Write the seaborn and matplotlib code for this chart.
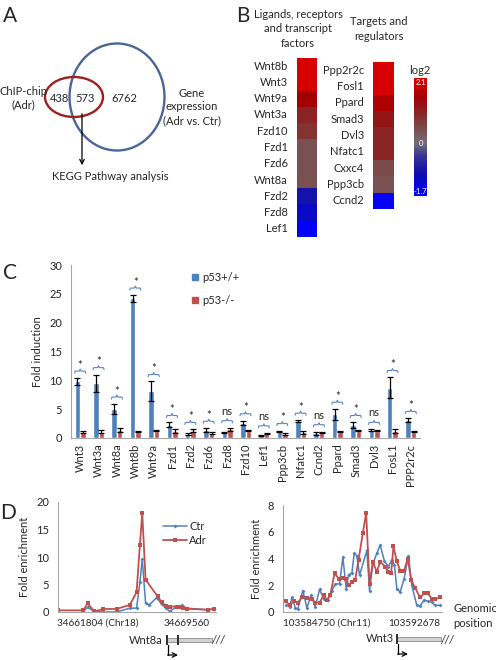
import numpy as np
import pandas as pd
import matplotlib
matplotlib.use('Agg')
import matplotlib.pyplot as plt
import seaborn as sns
from matplotlib.patches import Ellipse, Rectangle
from matplotlib.colors import LinearSegmentedColormap, Normalize
from matplotlib.cm import ScalarMappable
from matplotlib.lines import Line2D

# ─────────────────────────────────────────────────────────────────────────────
# DATA
# ─────────────────────────────────────────────────────────────────────────────
# A: Venn counts
VENN_CHIP_ONLY = 438
VENN_OVERLAP = 573
VENN_EXPR_ONLY = 6762

# B: heatmap, log2 fold change
HM_LEFT_GENES = ['Wnt8b', 'Wnt3', 'Wnt9a', 'Wnt3a', 'Fzd10', 'Fzd1', 'Fzd6',
                 'Wnt8a', 'Fzd2', 'Fzd8', 'Lef1']
HM_LEFT_LOG2 = [2.0, 2.0, 1.5, 1.0, 0.8, 0.4, 0.4, 0.4, -0.9, -1.2, -1.7]
HM_RIGHT_GENES = ['Ppp2r2c', 'Fosl1', 'Ppard', 'Smad3', 'Dvl3', 'Nfatc1',
                  'Cxxc4', 'Ppp3cb', 'Ccnd2']
HM_RIGHT_LOG2 = [2.0, 2.0, 1.6, 1.2, 1.0, 1.0, 0.5, 0.4, -1.6]
HM_MIN, HM_MAX = -1.7, 2.1

# C: qPCR fold induction
C_GENES = ['Wnt3', 'Wnt3a', 'Wnt8a', 'Wnt8b', 'Wnt9a', 'Fzd1', 'Fzd2', 'Fzd6',
           'Fzd8', 'Fzd10', 'Lef1', 'Ppp3cb', 'Nfatc1', 'Ccnd2', 'Ppard',
           'Smad3', 'Dvl3', 'FosL1', 'PPP2r2c']
C_WT = [9.8, 9.5, 5.0, 24.2, 8.1, 2.3, 0.7, 1.4, 1.0, 2.6, 0.5, 1.2, 2.9,
        0.8, 4.1, 2.2, 1.4, 8.7, 3.1]
C_WT_ERR = [0.6, 1.5, 0.9, 0.6, 1.7, 0.4, 0.1, 0.3, 0.1, 0.4, 0.1, 0.1, 0.2,
            0.2, 0.9, 0.5, 0.1, 1.8, 0.3]
C_KO = [1.1, 1.1, 1.4, 1.1, 1.3, 1.2, 1.3, 0.9, 1.5, 1.3, 0.8, 0.7, 1.0,
        1.0, 1.1, 1.3, 1.3, 1.2, 1.1]
C_KO_ERR = [0.2, 0.3, 0.3, 0.1, 0.1, 0.3, 0.2, 0.2, 0.3, 0.1, 0.1, 0.1, 0.3,
            0.1, 0.1, 0.1, 0.1, 0.3, 0.1]
C_SIG = ['*', '*', '*', '*', '*', '*', '*', '*', 'ns', '*', 'ns', '*', '*',
         'ns', '*', '*', 'ns', '*', '*']

# D left: Wnt8a locus (offset from 34661804, bp)
D1_START, D1_END = 34661804, 34669560
D1_ADR_POS = [0, 1243, 1458, 1790, 2237, 2900, 3563, 3894, 4060, 4176, 4342,
              4938, 5137, 5352, 5551, 5883, 6048, 6214, 6380, 7457, 7756]
D1_ADR = [0.3, 0.3, 1.6, 0.1, 0.55, 0.55, 1.3, 3.6, 12.2, 18.0, 5.9, 2.85,
          1.8, 1.15, 1.0, 1.0, 0.85, 0.7, 0.6, 0.4, 0.6]
D1_CTR_POS = [1243, 1458, 1790, 2237, 2900, 3563, 3894, 4060, 4176, 4342, 4524,
              4889, 5137, 5352, 5551, 5883, 6164, 6380, 7457, 7756]
D1_CTR = [0.1, 0.85, 0.1, 0.0, 0.0, 0.7, 0.7, 5.4, 9.6, 1.6, 1.3, 2.6, 1.45,
          0.7, 0.1, 1.0, 1.2, 0.7, 0.4, 0.55]

# D right: Wnt3 locus (offset from 103584750, bp)
D2_START, D2_END = 103584750, 103592678
D2_ADR_POS = [0, 172, 378, 583, 807, 1064, 1321, 1493, 1716, 1922, 2094, 2265,
              2488, 2694, 2917, 3089, 3209, 3381, 3552, 3724, 3947, 4118, 4290,
              4462, 4668, 4839, 5097, 5268, 5405, 5525, 5697, 5869, 6075, 6263,
              6435, 6641, 6898, 7121, 7293, 7499, 7671, 7928]
D2_ADR = [0.8, 0.5, 0.8, 0.7, 1.1, 1.05, 1.0, 0.7, 0.7, 1.25, 0.9, 1.25, 2.9,
          2.5, 2.55, 2.5, 2.0, 2.25, 2.4, 3.9, 5.9, 7.4, 2.1, 3.75, 3.0, 3.75,
          3.4, 3.0, 2.9, 4.9, 3.8, 3.1, 3.1, 4.0, 2.4, 1.8, 1.1, 1.4, 1.4,
          1.0, 0.95, 1.1]
D2_CTR_POS = [0, 172, 292, 463, 583, 858, 1064, 1270, 1493, 1716, 1922, 2128,
              2351, 2523, 2746, 2917, 3089, 3209, 3381, 3501, 3638, 3775, 4153,
              4290, 4462, 4668, 4839, 5062, 5268, 5440, 5577, 5697, 5869, 6075,
              6298, 6470, 6727, 6898, 7104, 7293, 7499, 7671, 7928]
D2_CTR = [0.5, 0.4, 1.1, 0.3, 0.2, 1.6, 0.3, 1.25, 0.4, 1.7, 1.0, 0.9, 1.6,
          2.1, 2.1, 4.1, 1.75, 2.8, 2.9, 4.4, 4.2, 2.75, 4.6, 1.6, 3.6, 4.4,
          5.0, 3.8, 3.4, 3.9, 3.5, 1.75, 1.5, 2.5, 4.2, 2.0, 0.5, 0.45, 0.9,
          0.8, 0.75, 0.5, 0.5]

# ─────────────────────────────────────────────────────────────────────────────
# STYLE
# ─────────────────────────────────────────────────────────────────────────────
sns.set_style('white')
plt.rcParams['font.family'] = ['Lato', 'DejaVu Sans']
plt.rcParams['font.size'] = 8

BLUE = '#4F81BD'
RED = '#C0504D'
AXIS_GRAY = '#A6A6A6'
W, H = 496, 660

fig = plt.figure(figsize=(W / 100, H / 100), dpi=100)

# overlay in pixel coordinates for free-standing text and shapes
ov = fig.add_axes([0, 0, 1, 1], zorder=-1)
ov.set_xlim(0, W)
ov.set_ylim(H, 0)
ov.axis('off')


def px_axes(x0, y0, x1, y1):
    """Axes from pixel box (top-left origin)."""
    return fig.add_axes([x0 / W, 1 - y1 / H, (x1 - x0) / W, (y1 - y0) / H])


# panel letters
for letter, (lx, ly) in {'A': (10, 16), 'B': (243, 16), 'C': (10, 273), 'D': (8, 513)}.items():
    ov.text(lx, ly, letter, fontsize=15, ha='center', va='center')

# ─────────────────────────────────────────────────────────────────────────────
# A: VENN
# ─────────────────────────────────────────────────────────────────────────────
ov.add_patch(Ellipse((117, 97), 95, 107, fill=False, ec='#4A6698', lw=1.7))
ov.add_patch(Ellipse((74, 97), 58, 40, fill=False, ec='#A01E1E', lw=1.7))
ov.text(59, 99, str(VENN_CHIP_ONLY), ha='center', va='center', fontsize=8)
ov.text(85, 99, str(VENN_OVERLAP), ha='center', va='center', fontsize=8)
ov.text(124, 99, str(VENN_EXPR_ONLY), ha='center', va='center', fontsize=8)
ov.text(23, 98, 'ChIP-chip\n(Adr)', ha='center', va='center', fontsize=8,
        linespacing=1.3)
ov.text(192, 107, 'Gene\nexpression\n(Adr vs. Ctr)', ha='center', va='center',
        fontsize=8, linespacing=1.3)
ov.annotate('', xy=(82, 168), xytext=(82, 111),
            arrowprops=dict(arrowstyle='->', color='black', lw=0.9))
ov.text(110, 176, 'KEGG Pathway analysis', ha='center', va='center', fontsize=8)

# ─────────────────────────────────────────────────────────────────────────────
# B: HEATMAPS
# ─────────────────────────────────────────────────────────────────────────────
hm_cmap = LinearSegmentedColormap.from_list('hm', [
    (0.0, (0.0, 0.0, 1.0)),
    (0.184, (0.05, 0.05, 0.68)),
    (0.33, (0.2, 0.2, 0.58)),
    (0.447, (0.45, 0.43, 0.47)),
    (0.579, (0.48, 0.29, 0.29)),
    (0.711, (0.54, 0.14, 0.14)),
    (0.842, (0.64, 0.0, 0.0)),
    (1.0, (0.88, 0.0, 0.0)),
])

ov.text(298, 29, 'Ligands, receptors\nand transcript\nfactors', ha='center',
        va='center', fontsize=8, linespacing=1.35)
ov.text(379, 29, 'Targets and\nregulators', ha='center', va='center',
        fontsize=8, linespacing=1.35)

for genes, vals, box in [(HM_LEFT_GENES, HM_LEFT_LOG2, (297, 58, 317, 237)),
                         (HM_RIGHT_GENES, HM_RIGHT_LOG2, (373, 62, 394, 209))]:
    hax = px_axes(*box)
    df = pd.DataFrame({'log2': vals}, index=genes)
    sns.heatmap(df, ax=hax, cmap=hm_cmap, vmin=HM_MIN, vmax=HM_MAX, cbar=False,
                xticklabels=False, yticklabels=genes)
    hax.tick_params(left=False, labelsize=8, pad=3)
    hax.set_yticklabels(genes, rotation=0)
    hax.set_ylabel('')

cax = px_axes(414, 78, 427, 196)
cb = fig.colorbar(ScalarMappable(norm=Normalize(HM_MIN, HM_MAX), cmap=hm_cmap), cax=cax)
cb.outline.set_visible(False)
cax.set_yticks([])
cax.text(0.5, HM_MAX - 0.15, '2.1', color='white', ha='center', va='center', fontsize=5.5,
         transform=cax.get_yaxis_transform())
cax.text(0.5, 0, '0', color='white', ha='center', va='center', fontsize=5.5,
         transform=cax.get_yaxis_transform())
cax.text(0.5, HM_MIN + 0.15, '-1.7', color='white', ha='center', va='center', fontsize=5.5,
         transform=cax.get_yaxis_transform())
ov.text(420, 71, 'log2', ha='center', va='center', fontsize=8)

# ─────────────────────────────────────────────────────────────────────────────
# C: BAR CHART
# ─────────────────────────────────────────────────────────────────────────────
axc = px_axes(71, 265, 420, 438)
df_c = pd.DataFrame({
    'gene': C_GENES * 2,
    'fold': C_WT + C_KO,
    'err': C_WT_ERR + C_KO_ERR,
    'genotype': ['p53+/+'] * len(C_GENES) + ['p53-/-'] * len(C_GENES),
})
sns.barplot(data=df_c, x='gene', y='fold', hue='genotype', palette=[BLUE, RED],
            width=0.6, errorbar=None, ax=axc, legend=False, saturation=1)

for cont, errs in zip(axc.containers, [C_WT_ERR, C_KO_ERR]):
    xs = [b.get_x() + b.get_width() / 2 for b in cont]
    ys = [b.get_height() for b in cont]
    axc.errorbar(xs, ys, yerr=errs, fmt='none', ecolor='black', elinewidth=0.9,
                 capsize=2.2, capthick=0.9)

# significance braces
for i, sig in enumerate(C_SIG):
    top = max(C_WT[i] + C_WT_ERR[i], C_KO[i] + C_KO_ERR[i]) + 1.2
    bx = [i - 0.3, i - 0.27, i - 0.05, i, i + 0.05, i + 0.27, i + 0.3]
    by = [top - 0.35, top, top, top + 0.35, top, top, top - 0.35]
    axc.plot(bx, by, color='#5B82C4', lw=0.8)
    axc.text(i, top + (1.05 if sig == '*' else 0.7), sig, ha='center',
             va='center' if sig == '*' else 'bottom', fontsize=8)

axc.set_xlim(-0.5, len(C_GENES) - 0.5)
axc.set_ylim(0, 30)
axc.set_yticks(range(0, 31, 5))
axc.set_xlabel('')
axc.set_ylabel('Fold induction', fontsize=8)
axc.set_xticks(range(len(C_GENES)))
axc.set_xticklabels(C_GENES, rotation=90, fontsize=8)
axc.set_xticks(np.arange(-0.5, len(C_GENES)), minor=True)
axc.tick_params(axis='x', which='major', length=0, pad=4)
axc.tick_params(axis='x', which='minor', length=4, color=AXIS_GRAY, direction='out')
axc.tick_params(axis='y', length=3, color=AXIS_GRAY, labelsize=8, direction='out')
for s in ['top', 'right']:
    axc.spines[s].set_visible(False)
for s in ['left', 'bottom']:
    axc.spines[s].set_color(AXIS_GRAY)
    axc.spines[s].set_linewidth(0.8)

axc.legend(handles=[Line2D([], [], marker='s', ls='', color=BLUE, markersize=5),
                    Line2D([], [], marker='s', ls='', color=RED, markersize=5)],
           labels=['p53+/+', 'p53-/-'], loc='upper left', bbox_to_anchor=(0.31, 1.02),
           frameon=False, fontsize=8, labelspacing=1.1, handletextpad=0.2,
           handlelength=1.0)

# ─────────────────────────────────────────────────────────────────────────────
# D: ChIP profiles
# ─────────────────────────────────────────────────────────────────────────────
def style_d(ax, ymax, step):
    ax.set_ylim(0, ymax)
    ax.set_yticks(np.arange(0, ymax + 0.1, step))
    ax.set_xticks([])
    ax.set_ylabel('Fold enrichment', fontsize=8)
    ax.tick_params(axis='y', length=3, color=AXIS_GRAY, labelsize=8, direction='out')
    for s in ['top', 'right']:
        ax.spines[s].set_visible(False)
    for s in ['left', 'bottom']:
        ax.spines[s].set_color(AXIS_GRAY)
        ax.spines[s].set_linewidth(0.8)


axd1 = px_axes(58, 502, 216, 612)
sns.lineplot(x=D1_CTR_POS, y=D1_CTR, ax=axd1, color=BLUE, marker='D', markersize=2,
             markeredgewidth=0, lw=1.1, estimator=None, label='Ctr')
sns.lineplot(x=D1_ADR_POS, y=D1_ADR, ax=axd1, color=RED, marker='s', markersize=3,
             markeredgewidth=0, lw=1.3, estimator=None, label='Adr')
axd1.set_xlim(-15, D1_END - D1_START + 90)
style_d(axd1, 20, 5)
axd1.legend(loc='upper left', bbox_to_anchor=(0.6, 0.92), frameon=False, fontsize=8,
            handlelength=2.2, handletextpad=0.2, labelspacing=0.3)

axd2 = px_axes(283, 505, 442, 612)
sns.lineplot(x=D2_CTR_POS, y=D2_CTR, ax=axd2, color=BLUE, marker='D', markersize=2,
             markeredgewidth=0, lw=1.1, estimator=None, legend=False)
sns.lineplot(x=D2_ADR_POS, y=D2_ADR, ax=axd2, color=RED, marker='s', markersize=3,
             markeredgewidth=0, lw=1.3, estimator=None, legend=False)
axd2.set_xlim(-170, D2_END - D2_START + 100)
style_d(axd2, 8, 2)

# genomic coordinate labels
ov.text(57, 623, f'{D1_START} (Chr18)', ha='left', va='center', fontsize=7.2)
ov.text(210, 623, f'{D1_END}', ha='right', va='center', fontsize=7.2)
ov.text(283, 623, f'{D2_START} (Chr11)', ha='left', va='center', fontsize=7.2)
ov.text(440, 623, f'{D2_END}', ha='right', va='center', fontsize=7.2)
ov.text(453, 616, 'Genomic\nposition', ha='left', va='center', fontsize=8,
        linespacing=1.4)


# gene structure sketches
def gene_sketch(label, x0, x1, y, exons, lx):
    ov.text(lx, y, label, ha='right', va='center', fontsize=8)
    ov.add_patch(Rectangle((x0, y - 2), x1 - x0, 4, fc='#D0D0D0', ec='#8C8C8C', lw=0.6))
    for ex in exons:
        ov.add_patch(Rectangle((ex - 1, y - 5), 2.2, 10, fc='#303030', ec='none'))
    ov.text(x1 + 6, y, '///', ha='center', va='center', fontsize=8, style='italic')
    ov.plot([x0 + 1, x0 + 1], [y + 5, y + 15], color='black', lw=0.9)
    ov.annotate('', xy=(x0 + 11, y + 15), xytext=(x0 + 0.6, y + 15),
                arrowprops=dict(arrowstyle='->', color='black', lw=0.9,
                                shrinkA=0, shrinkB=0))


gene_sketch('Wnt8a', 167, 212, 640, [167, 178], 163)
gene_sketch('Wnt3', 397, 441, 639, [397], 394)

fig.savefig('out.png', dpi=100)
